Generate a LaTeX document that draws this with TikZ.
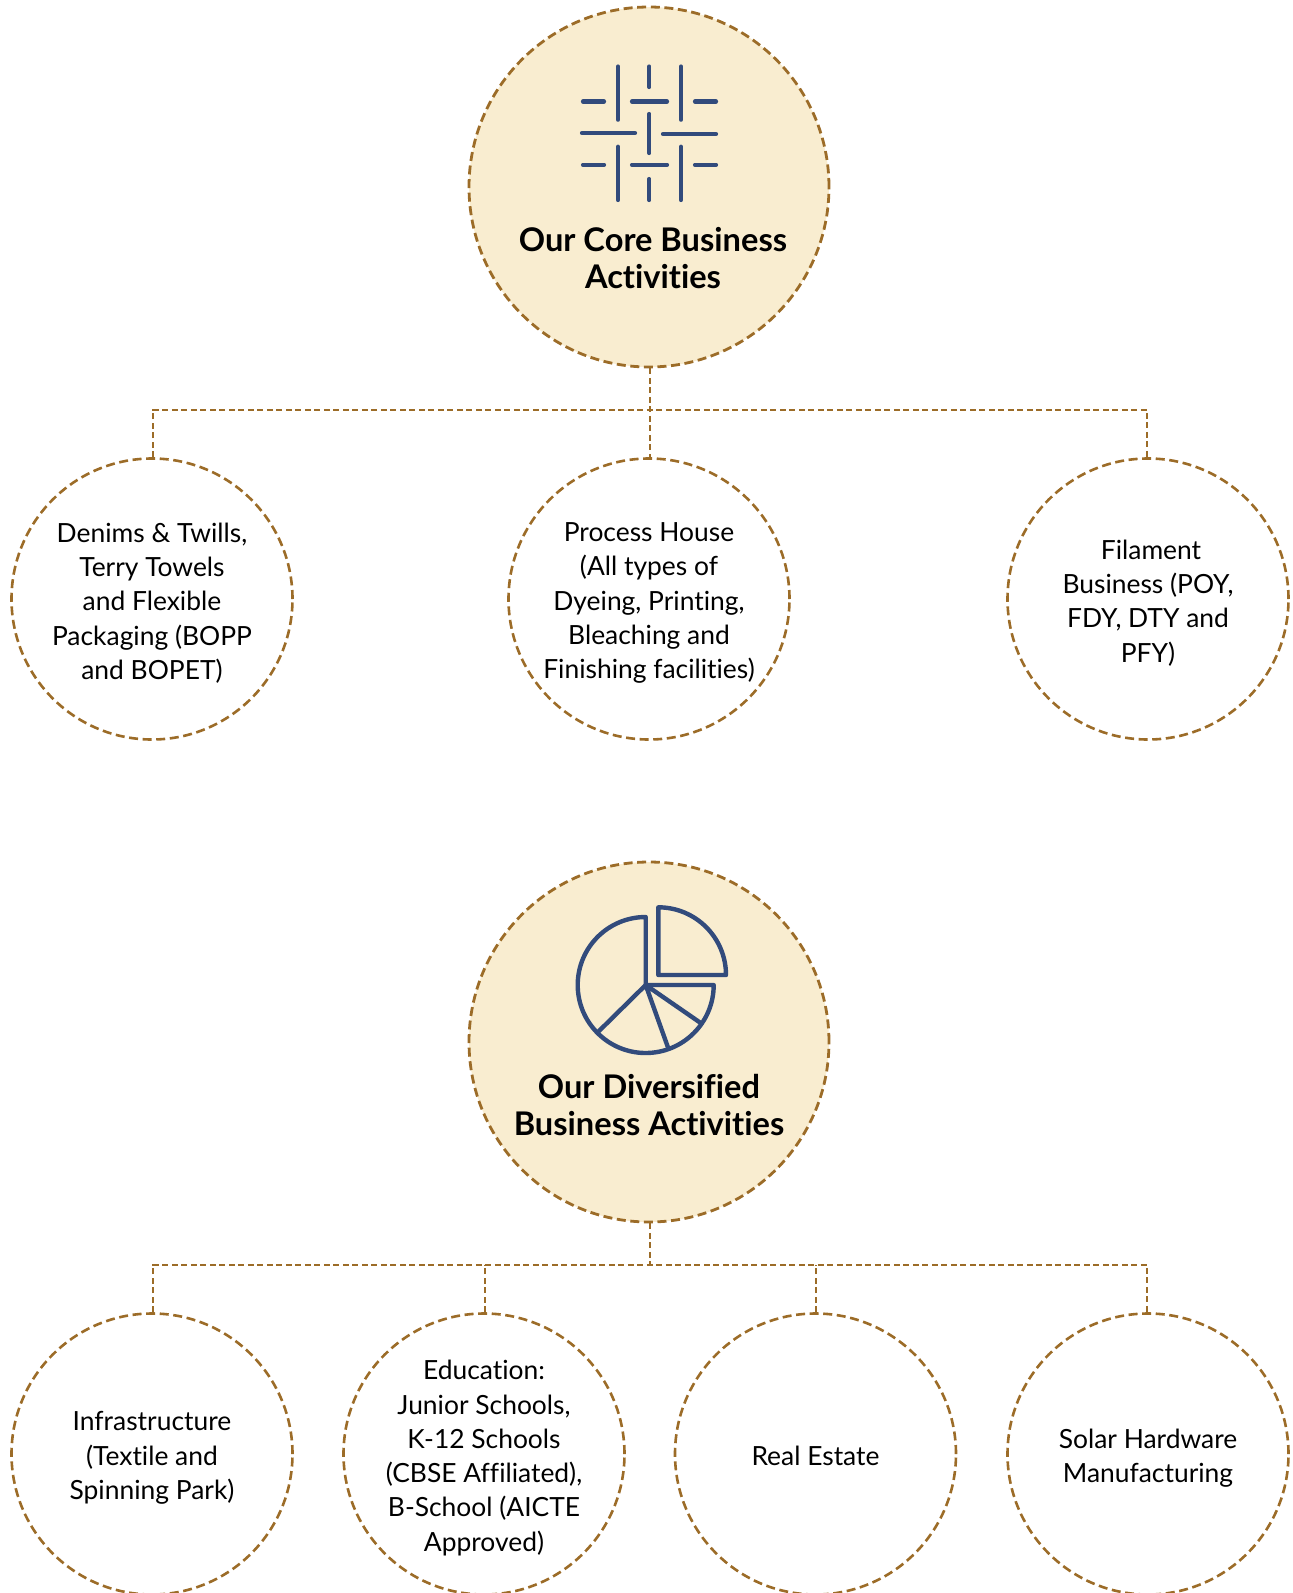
\documentclass[tikz,border=0pt]{standalone}
\usepackage{fontspec}
\setmainfont[Ligatures={NoCommon,NoRequired,NoContextual}]{Lato}
\definecolor{bronze}{HTML}{9C6C28}
\definecolor{cream}{HTML}{F9EDD0}
\definecolor{navy}{HTML}{324B7C}
\tikzset{
 bigc/.style={circle,draw=bronze,fill=cream,line width=2.8pt,dash pattern=on 9pt off 4.6pt,minimum size=360pt,inner sep=0pt},
 smallc/.style={circle,draw=bronze,line width=2.6pt,dash pattern=on 9pt off 4.6pt,minimum size=281pt,inner sep=0pt},
 body/.style={align=center,inner sep=0pt,text=black,yshift=-4pt,font=\fontsize{26.4}{34.3}\selectfont},
 conn/.style={draw=bronze,line width=2pt,dash pattern=on 6pt off 3.5pt},
 icon/.style={draw=navy,line width=4.2pt,line cap=round},
 pie/.style={draw=navy,line width=4.4pt,line join=round,line cap=round},
 title/.style={align=center,inner sep=0pt,text=black,font=\fontsize{32.6}{37}\selectfont\bfseries}
}
\begin{document}
\begin{tikzpicture}[x=1pt,y=-1pt]
\useasboundingbox (0,0) rectangle (1293,1593);
\coordinate (bus1) at (650,409.5);
\coordinate (bus2) at (650,1264.5);
\node[bigc] (core) at (649,187) {};
\node[bigc] (div) at (649,1042) {};
\node[smallc] (denim) at (152,599) {};
\node[smallc] (process) at (649,599) {};
\node[smallc] (filament) at (1148,599) {};
\node[smallc] (infra) at (152,1454) {};
\node[smallc] (edu) at (484,1454) {};
\node[smallc] (real) at (815.5,1454) {};
\node[smallc] (solar) at (1148,1454) {};
\node[body] (tdenim) at (denim) {Denims \& Twills,\\Terry Towels\\and Flexible\\Packaging (BOPP\\and BOPET)};
\node[body] (tprocess) at (process) {Process House\\(All types of\\Dyeing, Printing,\\Bleaching and\\Finishing facilities)};
\node[body] (tfil) at (filament) {\hspace*{6pt}Filament\\Business (POY,\\FDY, DTY and\\PFY)};
\node[body] (tinfra) at (infra) {Infrastructure\\(Textile and\\Spinning Park)};
\node[body] (tedu) at (edu) {Education:\\Junior Schools,\\K-12 Schools\\(CBSE Affiliated),\\B-School (AICTE\\Approved)};
\node[body,yshift=2pt] (treal) at (real) {Real Estate};
\node[body] (tsolar) at (solar) {Solar Hardware\\Manufacturing};
\draw[conn] ([xshift=1pt]denim.north) -- ([xshift=1pt]denim.north |- bus1) -- ([xshift=-1pt]filament.north |- bus1) -- ([xshift=-1pt]filament.north);
\draw[conn] ([xshift=1pt]core.south) -- ([xshift=1pt]process.north);
\draw[conn] ([xshift=1pt]infra.north) -- ([xshift=1pt]infra.north |- bus2) -- ([xshift=-1pt]solar.north |- bus2) -- ([xshift=-1pt]solar.north);
\draw[conn] ([xshift=1pt]div.south) -- (bus2);
\draw[conn] ([xshift=1pt]edu.north) -- ([xshift=1pt]edu.north |- bus2);
\draw[conn] (real.north) -- (real.north |- bus2);
\node[title] (coret) at (653,258.5) {Our Core Business\\Activities};
\node[title] (divt) at (649,1105.5) {Our Diversified\\Business Activities};
% weave icon
\draw[icon] (618,66.5)--(618,119.7) (649.3,66.5)--(649.3,87) (681,66.5)--(681,119.7);
\draw[icon] (583,101.5)--(604,101.5) (632,101.5)--(667,101.5) (695,101.5)--(716,101.5);
\draw[icon] (582,133)--(635,133) (663,134)--(716,134) (649.3,114)--(649.3,153);
\draw[icon] (583,164.7)--(604,164.7) (632,164.7)--(667,164.7) (695,164.7)--(716,164.7);
\draw[icon] (618,146.7)--(618,200) (649.3,179)--(649.3,200) (681,146.7)--(681,200);
% pie icon
\draw[pie] (645.7,985) -- (645.7,917) arc[start angle=-90,end angle=-360,radius=68] -- cycle;
\draw[pie] (645.7,985) -- (598.3,1031.7) (645.7,985) -- (668.3,1048.3) (645.7,985) -- (700.7,1023);
\draw[pie] (658.3,975) -- (658.3,907.3) arc[start angle=-90,end angle=0,radius=67.7] -- cycle;
\end{tikzpicture}
\end{document}
